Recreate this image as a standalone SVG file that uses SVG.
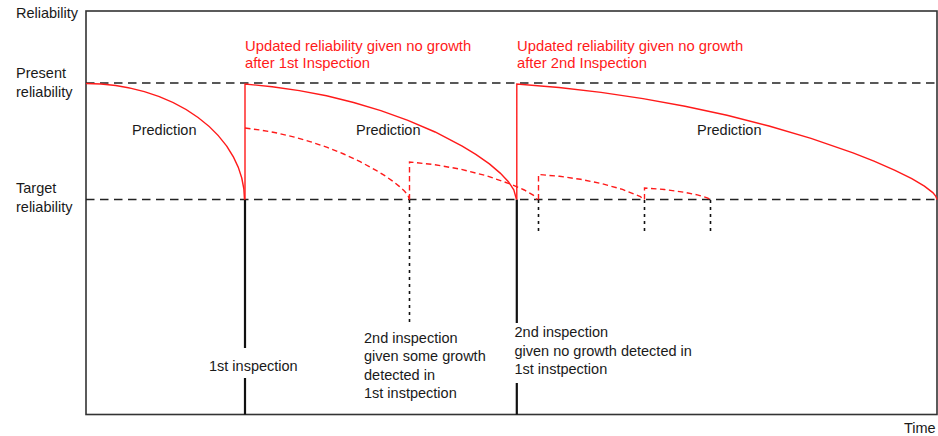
<svg xmlns="http://www.w3.org/2000/svg" width="938" height="436" viewBox="0 0 938 436">
<style>
text{font-family:"Liberation Sans",Arial,sans-serif;font-size:14.5px;fill:#1a1a1a}
.red{fill:#ff1a1a;font-size:14.8px}
.axis{fill:none;stroke:#333;stroke-width:1.6}
.guide{fill:none;stroke:#222;stroke-width:1.5;stroke-dasharray:8.5 5.5}
.pred{fill:none;stroke:#ff1a1a;stroke-width:1.4}
.alt{fill:none;stroke:#ff1a1a;stroke-width:1.4;stroke-dasharray:5.5 3.5}
.insp{fill:none;stroke:#111;stroke-width:2.2}
.dot{fill:none;stroke:#111;stroke-width:1.6;stroke-dasharray:3 4}
</style>
<rect width="938" height="436" fill="#fff"/>
<g id="axes">
<rect class="axis" x="86" y="11" width="851" height="403.5"/>
</g>
<g id="guides">
<line class="guide" x1="86" y1="83" x2="937" y2="83"/>
<line class="guide" x1="86" y1="199.5" x2="940" y2="199.5"/>
</g>
<g id="connectors">
<g id="inspection-lines">
<path class="insp" d="M245,199.5V348M245,378V414.5"/>
<path class="insp" d="M516.8,199.5V323M516.8,383V414.5"/>
<path class="dot" d="M409.5,200V323"/>
<path class="dot" d="M538.5,200V234"/>
<path class="dot" d="M644.5,200V234"/>
<path class="dot" d="M710.5,200V234"/>
</g>
<g id="prediction-curves">
<path class="pred" d="M86,83.5A158.5,116 0 0 1 244.5,199.5"/>
<path class="pred" d="M245,199.5V84L272.2,86.7L299.3,90.6L326.5,95.8L353.6,102.5L380.8,110.6L407.9,120.3L435.1,132L462.2,146.1L475.8,154.4L489.4,163.9L500.2,173.1L508.4,181.7L513.8,189.8L516.5,199.5"/>
<path class="pred" d="M516.8,199.5V84L559,87.5L601,92.4L643,98.6L685,106.3L727,115.3L769,126L811,138.4L853,152.9L874,161.1L895,170.3L911.8,178.6L924.4,186.1L932.8,192.6L935.7,196L937,199.5"/>
</g>
<g id="growth-curves">
<path class="alt" d="M245,128L261.5,130.2L277.9,133.2L294.4,137.1L310.8,141.8L327.3,147.4L343.7,154L360.2,161.7L376.6,170.6L384.8,175.7L393.1,181.4L399.6,186.6L404.6,191.2L407.9,195.2L409.5,199.5"/>
<path class="alt" d="M409.5,199.5V162L435,164.7L460.5,169.2L486,175.6L511.5,184.4L524.3,190L533.2,195.1L537,199.5"/>
<path class="alt" d="M538.5,199.5V174.5L559.5,176.3L580.5,179.3L601.5,183.6L622.5,189.4L633,193.7L640.4,196.6L643.5,199.5"/>
<path class="alt" d="M644.5,199.5V188L664.3,189.5L684.1,192.2L697.3,194.9L707.2,197.8L710.5,199.5"/>
</g>
</g>
<g id="axis-labels">
<text x="16" y="18.3">Reliability</text>
<text x="16" y="78.3">Present</text>
<text x="16" y="96.7">reliability</text>
<text x="16" y="193.3">Target</text>
<text x="16" y="211.7">reliability</text>
<text x="904" y="432.5">Time</text>
</g>
<g id="update-labels">
<text class="red" x="245" y="50.7">Updated reliability given no growth</text>
<text class="red" x="245" y="68.3">after 1st Inspection</text>
<text class="red" x="517" y="50.7">Updated reliability given no growth</text>
<text class="red" x="517" y="68.3">after 2nd Inspection</text>
</g>
<g id="prediction-labels">
<text x="132" y="135.3">Prediction</text>
<text x="356" y="135.3">Prediction</text>
<text x="697" y="135.3">Prediction</text>
</g>
<g id="inspection-labels">
<text x="209" y="370.7">1st inspection</text>
<text x="364" y="342.7">2nd inspection</text>
<text x="364" y="361.2">given some growth</text>
<text x="364" y="379.7">detected in</text>
<text x="364" y="397.7">1st instpection</text>
<text x="514.5" y="337.3">2nd inspection</text>
<text x="514.5" y="355.8">given no growth detected in</text>
<text x="514.5" y="374.2">1st instpection</text>
</g>
</svg>
